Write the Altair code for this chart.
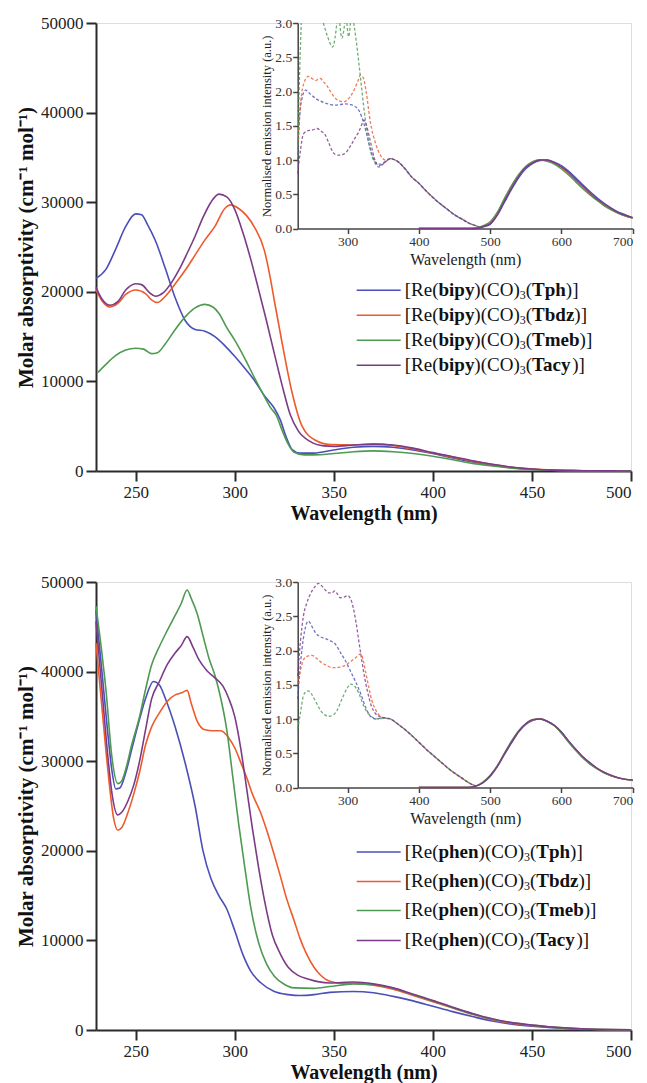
import altair as alt
import pandas as pd

FONT = "Liberation Serif"
SERIES = ["Tph", "Tbdz", "Tmeb", "Tacy"]
COLORS = ["#4b4fb8", "#ef5a2c", "#4e9a52", "#7b3b87"]

# ---------------- top panel (bipy): absorption ----------------
tph_top_wl = [230,235,240,245,250,253,256,260,265,270,275,280,285,290,295,300,305,310,315,320,323,326,329,333,340,350,360,370,380,390,400,410,420,430,440,450,460,470,480,490,500]
tph_top_val = [21500,22500,24800,27300,28700,28600,27500,25700,22600,19300,16800,15800,15600,15000,14000,12800,11500,10100,8400,7000,5700,3800,2400,2000,2000,2350,2650,2750,2650,2350,1950,1450,1000,650,380,200,100,50,20,10,0]
tbdz_top_wl = [230,233,237,241,245,250,255,258,261,265,270,275,280,285,290,295,298,302,306,310,315,318,320,324,329,334,341,348,360,370,380,390,400,410,420,430,440,450,460,470,480,490,500]
tbdz_top_val = [20200,19000,18300,18700,19700,20200,19800,19100,18800,19500,20900,22400,24100,25800,27300,29300,29700,29300,28500,27200,24600,21500,19000,14200,8700,5000,3400,2950,2900,3000,2850,2450,2000,1550,1100,720,420,230,110,50,20,10,0]
tmeb_top_wl = [231,235,240,245,250,254,258,261,265,270,275,280,285,289,292,296,300,305,310,315,318,321,324,327,330,335,340,350,360,370,380,390,400,410,420,430,440,450,460,470,480,490,500]
tmeb_top_val = [11000,11900,12900,13500,13700,13600,13100,13200,14200,15800,17200,18200,18600,18300,17600,16000,14600,12600,10400,8300,7100,6200,4500,3000,2100,1800,1800,1950,2150,2250,2150,1950,1650,1250,850,550,320,170,80,40,20,10,0]
tacy_top_wl = [230,233,237,241,245,250,253,257,260,264,268,272,276,280,284,288,292,296,300,304,308,312,316,320,324,328,332,338,345,350,360,370,380,390,400,410,420,430,440,450,460,470,480,490,500]
tacy_top_val = [20500,19200,18500,18900,20200,20900,20800,19900,19500,19900,21000,22500,24300,26200,28300,30000,30900,30600,29200,26700,23700,20300,16800,13100,9500,6300,4500,3300,2800,2750,2900,3000,2900,2550,2050,1600,1150,750,420,230,100,50,20,10,0]

# ---------------- bottom panel (phen): absorption ----------------
tph_bot_wl = [230,233,236,238,240,242,245,248,252,255,259,262,265,270,275,280,284,288,292,296,300,304,308,313,320,327,333,340,348,360,370,380,390,400,410,420,430,440,450,460,470,480,490,500]
tph_bot_val = [46800,40000,33000,29000,26900,27000,28700,31300,34700,37000,38900,38500,37000,33800,29800,25000,20000,16900,15000,13500,11100,8500,6600,5300,4300,3950,3850,3950,4200,4300,4150,3750,3250,2650,2050,1500,1000,650,420,250,130,60,20,5]
tbdz_bot_wl = [230,233,236,239,241,243,246,249,252,255,258,262,266,270,273,276,278,281,285,289,293,297,300,303,306,309,313,316,320,323,326,330,333,336,340,343,348,355,360,370,380,390,400,410,420,430,440,450,460,470,480,490,500]
tbdz_bot_val = [43200,36000,29000,23500,22300,22600,24200,26300,28800,31800,33800,35400,36700,37400,37600,37900,36500,34500,33500,33400,33400,32600,31500,29900,28200,26300,24300,22400,19500,17200,14800,12200,10200,8600,7000,6200,5450,5200,5200,5000,4550,3850,3150,2450,1750,1150,750,500,300,170,80,30,10]
tmeb_bot_wl = [230,233,235,238,241,243,245,248,252,255,258,262,266,270,273,276,278,281,284,287,290,293,296,299,302,305,308,312,316,320,325,330,340,348,360,370,380,390,400,410,420,430,440,450,460,470,480,490,500]
tmeb_bot_val = [47300,42000,38000,30500,27500,27800,29100,31800,35000,38000,40700,42800,44600,46300,47600,49100,48200,46500,44000,41500,39600,37000,33500,28300,23000,18300,13800,9800,7400,6000,5100,4700,4650,4850,5150,5050,4650,3950,3250,2500,1800,1200,800,550,320,180,90,40,10]
tacy_bot_wl = [230,233,236,238,241,243,246,249,252,255,258,262,266,270,273,276,279,282,286,290,294,297,300,303,306,309,312,315,319,323,327,332,337,342,348,360,370,380,390,400,410,420,430,440,450,460,470,480,490,500]
tacy_bot_val = [45600,38000,30500,26500,24000,24300,25500,27300,30000,33500,36900,38900,40800,42100,42900,43900,42700,41300,40100,39300,38400,37000,35000,31500,27000,22400,18200,14500,10600,8500,7000,6100,5700,5400,5250,5350,5150,4700,4000,3300,2550,1850,1250,820,560,330,190,90,40,10]

# ---------------- top inset: excitation (dashed) ----------------
tph_top_exc_wl = [230,232,236,241,248,255,262,269,276,283,290,297,303,309,316,323,330,337,344,353]
tph_top_exc_val = [1.0,1.5,1.9,2.02,1.96,1.9,1.86,1.83,1.81,1.8,1.81,1.82,1.81,1.79,1.72,1.53,1.24,0.99,0.9,0.97]
tbdz_top_exc_wl = [230,233,238,245,250,255,259,262,266,270,276,283,289,295,300,304,309,314,318,322,326,332,339,346,353]
tbdz_top_exc_val = [1.2,1.7,2.1,2.22,2.19,2.16,2.18,2.19,2.14,2.1,2.0,1.9,1.86,1.85,1.88,1.93,2.02,2.14,2.24,2.2,2.0,1.55,1.25,1.07,1.0]
tmeb_top_exc_wl = [230,232,235,250,266,272,279,285,287,289,292,296,298,299,301.5,304,306,308.6,312,316,320,325,332,339,346,353]
tmeb_top_exc_val = [1.0,2.0,3.0,None,3.0,2.8,2.65,3.0,None,3.0,2.78,3.0,None,3.0,2.8,3.0,None,3.0,2.75,2.4,2.02,1.58,1.14,0.97,0.94,0.98]
tacy_top_exc_wl = [230,234,238,245,251,257,263,269,274,278,283,288,293,297,302,306,311,316,320,323,326,330,334,337,344,353]
tacy_top_exc_val = [0.8,1.15,1.38,1.43,1.44,1.46,1.42,1.36,1.24,1.14,1.08,1.07,1.08,1.1,1.17,1.24,1.33,1.42,1.52,1.58,1.52,1.36,1.18,1.04,0.92,0.97]
top_exc_tail_wl = [360,370,380,390,400,410,420,430,440,450,460,470,480,487]
top_exc_tail_val = [1.02,0.98,0.88,0.75,0.66,0.55,0.45,0.36,0.28,0.2,0.14,0.08,0.04,0.01]

# ---------------- bottom inset: excitation (dashed) ----------------
tph_bot_exc_wl = [230,233,236,240,245,250,255,260,264,270,276,283,290,297,304,311,318,325,332,340,350]
tph_bot_exc_val = [1.29,1.7,2.02,2.3,2.43,2.35,2.26,2.21,2.19,2.17,2.14,2.09,1.97,1.85,1.7,1.55,1.38,1.18,1.04,1.0,1.02]
tbdz_bot_exc_wl = [230,234,238,242,250,257,264,271,278,285,290,296,302,307,312,316,319,322,326,330,334,339,344,350]
tbdz_bot_exc_val = [1.5,1.72,1.86,1.91,1.93,1.88,1.82,1.78,1.75,1.75,1.76,1.78,1.82,1.86,1.9,1.94,1.95,1.85,1.65,1.45,1.27,1.14,1.06,1.02]
tmeb_bot_exc_wl = [230,234,238,242,245,249,253,258,263,268,274,280,285,290,295,300,304,308,312,316,320,325,330,336,344,350]
tmeb_bot_exc_val = [0.85,1.1,1.34,1.4,1.41,1.37,1.3,1.2,1.11,1.06,1.04,1.06,1.12,1.24,1.36,1.46,1.51,1.5,1.45,1.37,1.26,1.14,1.07,1.02,1.0,1.01]
tacy_bot_exc_wl = [230,234,238,243,248,254,259,264,269,274,278,282,286,290,295,300,304,308,312,316,320,324,328,333,339,344,350]
tacy_bot_exc_val = [1.63,2.15,2.5,2.7,2.83,2.93,2.98,2.94,2.88,2.84,2.84,2.87,2.82,2.77,2.78,2.8,2.76,2.62,2.4,2.12,1.85,1.6,1.4,1.2,1.08,1.04,1.02]
bot_exc_tail_wl = [360,370,380,390,400,410,420,430,440,450,460,470,480]
bot_exc_tail_val = [1.0,0.93,0.85,0.76,0.66,0.56,0.47,0.38,0.29,0.21,0.14,0.07,0.02]

# ---------------- emission (solid, insets) ----------------
em_wl = [400,440,470,480,490,500,510,520,530,540,550,560,570,580,590,600,610,620,630,640,650,660,670,680,690,700]
tph_top_em = [0,0,0,0.0,0.02,0.06,0.19,0.38,0.57,0.74,0.87,0.95,0.99,1.0,0.97,0.92,0.84,0.74,0.64,0.54,0.45,0.37,0.3,0.24,0.2,0.16]
tbdz_top_em = [0,0,0,0.01,0.03,0.08,0.22,0.42,0.61,0.77,0.9,0.97,1.0,0.99,0.95,0.89,0.8,0.7,0.6,0.5,0.42,0.34,0.27,0.22,0.18,0.15]
tmeb_top_em = [0,0,0,0.01,0.04,0.1,0.24,0.44,0.63,0.79,0.91,0.98,1.0,0.98,0.94,0.87,0.78,0.68,0.58,0.49,0.41,0.33,0.27,0.22,0.18,0.15]
tacy_top_em = [0,0,0,0.0,0.03,0.07,0.2,0.4,0.59,0.76,0.89,0.96,1.0,1.0,0.96,0.9,0.82,0.72,0.62,0.52,0.43,0.36,0.29,0.23,0.19,0.16]
tph_bot_em = [0,0,0,0.02,0.07,0.16,0.3,0.48,0.65,0.81,0.92,0.98,1.0,0.97,0.91,0.81,0.68,0.56,0.45,0.36,0.28,0.22,0.17,0.14,0.12,0.11]
tbdz_bot_em = [0,0,0,0.02,0.08,0.17,0.31,0.5,0.67,0.82,0.93,0.99,1.0,0.97,0.9,0.8,0.67,0.55,0.44,0.35,0.28,0.22,0.17,0.14,0.12,0.1]
tmeb_bot_em = [0,0,0,0.02,0.08,0.18,0.32,0.5,0.68,0.83,0.93,0.99,1.0,0.96,0.9,0.79,0.66,0.54,0.43,0.34,0.27,0.21,0.17,0.14,0.12,0.1]
tacy_bot_em = [0,0,0,0.02,0.07,0.17,0.31,0.49,0.66,0.82,0.93,0.99,1.0,0.97,0.91,0.81,0.68,0.56,0.45,0.36,0.28,0.22,0.18,0.14,0.12,0.11]

main_x_ticks = [250, 300, 350, 400, 450, 500]
main_y_ticks = [0, 10000, 20000, 30000, 40000, 50000]
inset_x_ticks = [300, 400, 500, 600, 700]
inset_y_ticks = [0, 0.5, 1.0, 1.5, 2.0, 2.5, 3.0]

# ---------------- layout constants (pixels, plot-relative) ----------------
W, H = 535, 448
INSET_XR = [201.7, 536.7]
INSET_YR = [205.5, 0]
LEG_X1, LEG_X2, LEG_TX = 260.7, 304.7, 308.7
LEG_ROWS_TOP = [267.3, 292.3, 317.3, 342.3]
LEG_ROWS_BOT = [270.0, 299.4, 328.4, 358.4]
LEG_SIZE, SUB_SIZE = 19, 12

REG_W = {"[": 333, "]": 333, "(": 333, ")": 333, "R": 667, "e": 444, "C": 667, "O": 722, "3": 500}
BOLD_W = {"b": 556, "i": 278, "p": 556, "y": 500, "h": 556, "e": 444, "n": 556, "T": 667,
          "d": 556, "z": 444, "m": 833, "c": 444, "a": 500}

cscale = alt.Scale(domain=SERIES, range=COLORS)


def long_df(items):
    rows = []
    for s, wl, val in items:
        seg = 0
        for w, v in zip(wl, val):
            if v is None:
                seg += 1
                continue
            rows.append({"series": s, "seg": seg, "wl": w, "val": v})
    return pd.DataFrame(rows)


def axis_main_x():
    return alt.Axis(values=main_x_ticks, title="Wavelength (nm)", titleFont=FONT, titleFontSize=20,
                    titleFontWeight="bold", titleColor="#111", labelFont=FONT, labelFontSize=17,
                    labelColor="#222", tickSize=10, tickWidth=2, tickColor="#2b2b2b", domainWidth=2,
                    domainColor="#2b2b2b", labelPadding=3, titlePadding=3, grid=False)


def axis_main_y():
    return alt.Axis(values=main_y_ticks, format="d", title="Molar absorptivity (cm\u207b\u00b9 mol\u207b\u00b9)",
                    titleFont=FONT, titleFontSize=21, titleFontWeight="bold", titleColor="#111",
                    labelFont=FONT, labelFontSize=17, labelColor="#222", tickSize=10, tickWidth=2,
                    tickColor="#2b2b2b", domainWidth=2, domainColor="#2b2b2b", labelPadding=3,
                    titlePadding=4, grid=False)


def axis_inset_x():
    return alt.Axis(orient="bottom", offset=INSET_YR[0] - H, values=inset_x_ticks, title="Wavelength (nm)",
                    titleFont=FONT, titleFontSize=16, titleFontWeight="normal", titleColor="#222",
                    labelFont=FONT, labelFontSize=13.5, labelColor="#333", tickSize=5, tickWidth=1.5,
                    tickColor="#444", domainWidth=1.5, domainColor="#444", labelPadding=1,
                    titlePadding=3, grid=False)


def axis_inset_y():
    return alt.Axis(orient="left", offset=-INSET_XR[0], values=inset_y_ticks, format=".1f",
                    title="Normalised emission intensity (a.u.)", titleFont=FONT, titleFontSize=12.5,
                    titleFontWeight="normal", titleColor="#222", labelFont=FONT, labelFontSize=13.5,
                    labelColor="#333", tickSize=5, tickWidth=1.5, tickColor="#444", domainWidth=1.5,
                    domainColor="#444", labelPadding=1, titlePadding=1, grid=False)


def legend_layers(ligand, rows):
    pieces, rules = [], []
    for s, y in zip(SERIES, rows):
        rules.append({"series": s, "x1": LEG_X1, "x2": LEG_X2, "py": y})
        parts = [("[Re(", "r"), (ligand, "b"), (")(CO)", "r"), ("3", "s"), ("(", "r"), (s, "b"), (")]", "r")]
        x = LEG_TX
        for txt, st in parts:
            if st == "b":
                w = sum(BOLD_W[c] for c in txt) / 1000 * LEG_SIZE
            elif st == "s":
                w = sum(REG_W[c] for c in txt) / 1000 * SUB_SIZE
            else:
                w = sum(REG_W[c] for c in txt) / 1000 * LEG_SIZE
            pieces.append({"txt": txt, "style": st, "px": x, "py": y + (5 if st == "s" else 0)})
            x += w
    pdf = pd.DataFrame(pieces)
    rdf = pd.DataFrame(rules)
    rule = alt.Chart(rdf).mark_rule(strokeWidth=1.5).encode(
        x=alt.X("x1:Q", scale=None, axis=None), x2="x2:Q",
        y=alt.Y("py:Q", scale=None, axis=None),
        color=alt.Color("series:N", scale=cscale, legend=None))
    layers = [rule]
    for st, size, weight in [("r", LEG_SIZE, "normal"), ("b", LEG_SIZE, "bold"), ("s", SUB_SIZE, "normal")]:
        layers.append(alt.Chart(pdf[pdf["style"] == st]).mark_text(
            align="left", baseline="middle", font=FONT, fontSize=size, fontWeight=weight, color="#111"
        ).encode(x=alt.X("px:Q", scale=None, axis=None), y=alt.Y("py:Q", scale=None, axis=None), text="txt:N"))
    return layers


def panel(main_items, exc_items, em_items, ligand, rows):
    xs_main = alt.Scale(domain=[230, 500], nice=False, zero=False)
    ys_main = alt.Scale(domain=[0, 50000], nice=False)
    main = alt.Chart(long_df(main_items)).mark_line(strokeWidth=1.6, interpolate="monotone").encode(
        x=alt.X("wl:Q", scale=xs_main, axis=axis_main_x()),
        y=alt.Y("val:Q", scale=ys_main, axis=axis_main_y()),
        color=alt.Color("series:N", scale=cscale, legend=None))

    xs_in = alt.Scale(domain=[230, 700], range=INSET_XR, nice=False, zero=False)
    ys_in = alt.Scale(domain=[0, 3], range=INSET_YR, nice=False)
    exc = alt.Chart(long_df(exc_items)).mark_line(
        strokeWidth=1.3, strokeDash=[3, 2], opacity=0.8, interpolate="monotone").encode(
        x=alt.X("wl:Q", scale=xs_in, axis=axis_inset_x()),
        y=alt.Y("val:Q", scale=ys_in, axis=axis_inset_y()),
        color=alt.Color("series:N", scale=cscale, legend=None),
        detail="seg:N")
    em = alt.Chart(long_df(em_items)).mark_line(strokeWidth=1.3, interpolate="monotone").encode(
        x=alt.X("wl:Q", scale=xs_in, axis=axis_inset_x()),
        y=alt.Y("val:Q", scale=ys_in, axis=axis_inset_y()),
        color=alt.Color("series:N", scale=cscale, legend=None))
    inset = alt.layer(exc, em)

    return alt.layer(main, inset, *legend_layers(ligand, rows)).resolve_scale(
        x="independent", y="independent").properties(width=W, height=H)


top = panel(
    [("Tph", tph_top_wl, tph_top_val), ("Tbdz", tbdz_top_wl, tbdz_top_val),
     ("Tmeb", tmeb_top_wl, tmeb_top_val), ("Tacy", tacy_top_wl, tacy_top_val)],
    [("Tph", tph_top_exc_wl + top_exc_tail_wl, tph_top_exc_val + top_exc_tail_val),
     ("Tbdz", tbdz_top_exc_wl + top_exc_tail_wl, tbdz_top_exc_val + top_exc_tail_val),
     ("Tmeb", tmeb_top_exc_wl + top_exc_tail_wl, tmeb_top_exc_val + top_exc_tail_val),
     ("Tacy", tacy_top_exc_wl + top_exc_tail_wl, tacy_top_exc_val + top_exc_tail_val)],
    [("Tph", em_wl, tph_top_em), ("Tbdz", em_wl, tbdz_top_em),
     ("Tmeb", em_wl, tmeb_top_em), ("Tacy", em_wl, tacy_top_em)],
    "bipy", LEG_ROWS_TOP)

bottom = panel(
    [("Tph", tph_bot_wl, tph_bot_val), ("Tbdz", tbdz_bot_wl, tbdz_bot_val),
     ("Tmeb", tmeb_bot_wl, tmeb_bot_val), ("Tacy", tacy_bot_wl, tacy_bot_val)],
    [("Tph", tph_bot_exc_wl + bot_exc_tail_wl, tph_bot_exc_val + bot_exc_tail_val),
     ("Tbdz", tbdz_bot_exc_wl + bot_exc_tail_wl, tbdz_bot_exc_val + bot_exc_tail_val),
     ("Tmeb", tmeb_bot_exc_wl + bot_exc_tail_wl, tmeb_bot_exc_val + bot_exc_tail_val),
     ("Tacy", tacy_bot_exc_wl + bot_exc_tail_wl, tacy_bot_exc_val + bot_exc_tail_val)],
    [("Tph", em_wl, tph_bot_em), ("Tbdz", em_wl, tbdz_bot_em),
     ("Tmeb", em_wl, tmeb_bot_em), ("Tacy", em_wl, tacy_bot_em)],
    "phen", LEG_ROWS_BOT)

chart = alt.vconcat(top, bottom, spacing=48).properties(
    padding={"left": 7, "top": 5, "right": 0, "bottom": 0}
).configure_view(stroke=None).configure(background="white")

chart.save("out.html", embed_options={"renderer": "svg", "actions": False})
